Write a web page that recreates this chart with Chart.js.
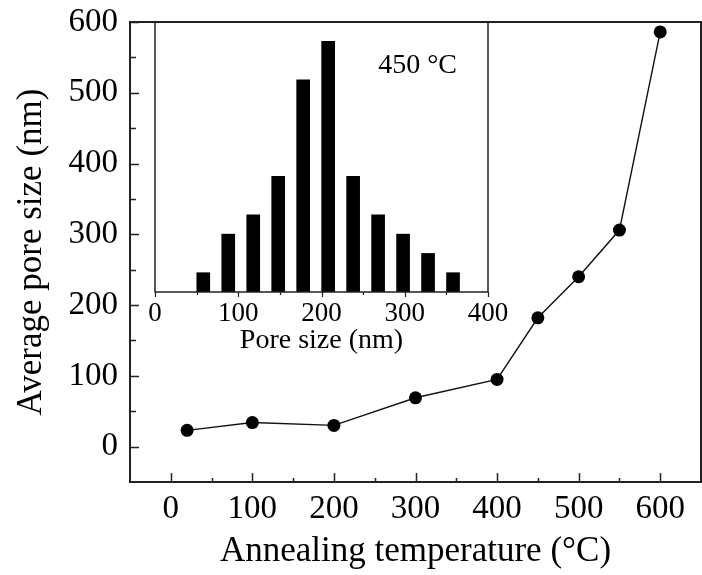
<!DOCTYPE html>
<html>
<head>
<meta charset="utf-8">
<script src="https://cdn.jsdelivr.net/npm/chart.js@4.4.1/dist/chart.umd.min.js"></script>
<style>
  html, body { margin: 0; padding: 0; background: #fff; }
  #wrap { position: relative; width: 702px; height: 575px; }
  #main { position: absolute; left: 0; top: 0; }
  #inset { position: absolute; left: 145px; top: 12px; }
</style>
</head>
<body>
<div id="wrap">
  <canvas id="main" width="702" height="575"></canvas>
  <canvas id="inset" width="378" height="345"></canvas>
</div>
<script>
// average pore size vs annealing temperature
const temps = [20, 100, 200, 300, 400, 450, 500, 550, 600];
const poreSize = [23, 34, 30, 69, 95, 182, 240, 306, 586];
const tempTicks = [0, 100, 200, 300, 400, 500, 600];
const tempMinor = [50, 150, 250, 350, 450, 550];
const sizeTicks = [0, 100, 200, 300, 400, 500, 600];
const sizeMinor = [50, 150, 250, 350, 450, 550];

// inset: pore size distribution at 450 C
const binCenters = [58, 88, 118, 148, 178, 208, 238, 268, 298, 328, 358];
const binCounts = [1, 3, 4, 6, 11, 13, 6, 4, 3, 2, 1];
const insetTicks = [0, 100, 200, 300, 400];
const insetMinor = [50, 150, 250, 350];
const insetLabel = "450 °C";

const SERIF = "'Liberation Serif', 'Times New Roman', serif";

// box around the plot area + hand drawn tick marks (inward/outward)
const frameTicks = {
    id: "frameTicks",
    afterDraw(chart, args, opts) {
        const { ctx, chartArea: a, scales } = chart;
        ctx.save();
        ctx.strokeStyle = "#222";
        ctx.lineWidth = opts.frameWidth;
        ctx.strokeRect(a.left, a.top, a.right - a.left, a.bottom - a.top);

        ctx.lineWidth = opts.tickWidth;
        ctx.beginPath();
        const xt = (vals, len) => {
            vals.forEach((v) => {
                const px = Math.round(scales.x.getPixelForValue(v)) + 0.5;
                ctx.moveTo(px, a.bottom);
                ctx.lineTo(px, a.bottom + opts.xDir * len);
            });
        };
        xt(opts.xMajor, opts.majorLen);
        xt(opts.xMinor, opts.minorLen);
        if (opts.yMajor) {
            const yt = (vals, len) => {
                vals.forEach((v) => {
                    const py = Math.round(scales.y.getPixelForValue(v)) + 0.5;
                    ctx.moveTo(a.left, py);
                    ctx.lineTo(a.left + len, py);
                });
            };
            yt(opts.yMajor, opts.majorLen);
            yt(opts.yMinor, opts.majorLen - 3);
        }
        ctx.stroke();

        if (opts.label) {
            ctx.fillStyle = "#000";
            ctx.font = "28px " + SERIF;
            ctx.textAlign = "right";
            ctx.textBaseline = "alphabetic";
            ctx.fillText(opts.label, a.right - 31, a.top + 51);
        }
        ctx.restore();
    },
};

const fixedTicks = (vals) => (scale) => {
    scale.ticks = vals.map((v) => ({ value: v }));
};

// pin axis sizes so the plot box lands where we want it
const fitX = (h) => (s) => {
    s.height = h;
    s.paddingLeft = 0;
    s.paddingRight = 0;
};
const fitY = (w) => (s) => {
    s.width = w;
    s.paddingTop = 0;
    s.paddingBottom = 0;
};

new Chart(document.getElementById("main"), {
    type: "line",
    data: {
        datasets: [
            {
                data: temps.map((t, i) => ({ x: t, y: poreSize[i] })),
                borderColor: "#111",
                borderWidth: 1.4,
                pointRadius: 6.5,
                pointBackgroundColor: "#000",
                pointBorderWidth: 0,
                tension: 0,
            },
        ],
    },
    options: {
        responsive: false,
        animation: false,
        layout: { autoPadding: false, padding: { top: 22, right: 1, left: 0, bottom: 0 } },
        plugins: {
            legend: { display: false },
            tooltip: { enabled: false },
            frameTicks: {
                frameWidth: 2,
                tickWidth: 1.5,
                majorLen: 9,
                minorLen: 4,
                xDir: -1,
                xMajor: tempTicks,
                xMinor: tempMinor,
                yMajor: sizeTicks,
                yMinor: sizeMinor,
            },
        },
        scales: {
            x: {
                type: "linear",
                min: -50,
                max: 650,
                afterBuildTicks: fixedTicks(tempTicks),
                afterFit: fitX(93),
                grid: { display: false, drawTicks: false },
                border: { display: false },
                ticks: { color: "#000", padding: 8, font: { family: SERIF, size: 33 } },
                title: {
                    display: true,
                    text: "Annealing temperature (°C)",
                    color: "#000",
                    padding: { top: 0, bottom: 2 },
                    font: { family: SERIF, size: 35 },
                },
            },
            y: {
                min: -50,
                max: 600,
                afterBuildTicks: fixedTicks(sizeTicks),
                afterFit: fitY(130),
                grid: { display: false, drawTicks: false },
                border: { display: false },
                ticks: { color: "#000", padding: 12, font: { family: SERIF, size: 33 } },
                title: {
                    display: true,
                    text: "Average pore size (nm)",
                    color: "#000",
                    padding: { top: 11, bottom: 0 },
                    font: { family: SERIF, size: 35 },
                },
            },
        },
    },
    plugins: [frameTicks],
});

new Chart(document.getElementById("inset"), {
    type: "bar",
    data: {
        datasets: [
            {
                data: binCenters.map((c, i) => ({ x: c, y: binCounts[i] })),
                backgroundColor: "#000",
                barThickness: 13,
            },
        ],
    },
    options: {
        responsive: false,
        animation: false,
        layout: { autoPadding: false, padding: { top: 10, right: 35, left: 10, bottom: 0 } },
        plugins: {
            legend: { display: false },
            tooltip: { enabled: false },
            frameTicks: {
                frameWidth: 1.5,
                tickWidth: 1.2,
                majorLen: 5,
                minorLen: 3,
                xDir: 1,
                xMajor: insetTicks,
                xMinor: insetMinor,
                label: insetLabel,
            },
        },
        scales: {
            x: {
                type: "linear",
                offset: false,
                min: 0,
                max: 400,
                afterBuildTicks: fixedTicks(insetTicks),
                afterFit: fitX(65),
                grid: { display: false, drawTicks: false, offset: false },
                border: { display: false },
                ticks: { color: "#000", padding: 6, font: { family: SERIF, size: 27 } },
                title: {
                    display: true,
                    text: "Pore size (nm)",
                    color: "#000",
                    padding: { top: 0, bottom: 0 },
                    font: { family: SERIF, size: 28 },
                },
            },
            y: {
                display: false,
                min: 0,
                max: 14,
            },
        },
    },
    plugins: [frameTicks],
});
</script>
</body>
</html>
